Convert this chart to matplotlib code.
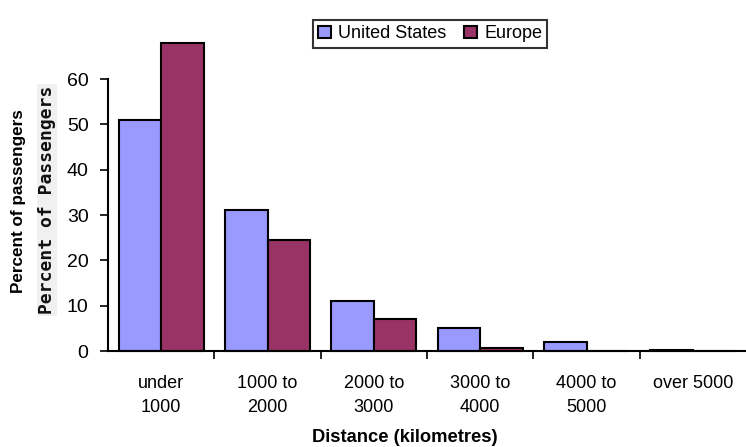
import matplotlib.pyplot as plt
import numpy as np

categories = ['under\n1000', '1000 to\n2000', '2000 to\n3000', '3000 to\n4000', '4000 to\n5000', 'over 5000']
us_values = [51, 31, 11, 5, 2, 0.3]
europe_values = [68, 24.5, 7, 0.7, 0, 0]

plt.rcParams['font.family'] = ['Liberation Sans', 'DejaVu Sans']

fig = plt.figure(figsize=(7.46, 4.47), dpi=100)
ax = fig.add_axes([108/746, 1 - 351/447, 638/746, 272/447])

x = np.arange(len(categories))
w = 0.4
ax.bar(x - w/2, us_values, w, color='#9999ff', edgecolor='black', linewidth=1.5,
       label='United States', clip_on=False)
ax.bar(x + w/2, europe_values, w, color='#993366', edgecolor='black', linewidth=1.5,
       label='Europe', clip_on=False)

ax.set_xlim(-0.5, 5.5)
ax.set_ylim(0, 60)
ax.set_yticks(range(0, 61, 10))
ax.set_xticks(x)
ax.set_xticklabels(categories, fontsize=13, linespacing=1.6)
ax.set_xticks(np.arange(0.5, 5, 1), minor=True)
ax.tick_params(axis='x', which='major', length=0, pad=17)
ax.tick_params(axis='x', which='minor', length=6, width=1.2, direction='out')
ax.tick_params(axis='y', length=6, width=1.2, direction='out', labelsize=14, pad=8)
for s in ['top', 'right']:
    ax.spines[s].set_visible(False)
ax.spines['left'].set_linewidth(1.5)
ax.spines['bottom'].set_linewidth(1.5)

fig.text(19/746, 1 - 201/447, 'Percent of passengers', rotation=90, fontsize=12.3,
         fontweight='bold', ha='center', va='center')
fig.text(47/746, 1 - 200/447, 'Percent of Passengers', rotation=90, fontsize=13,
         fontweight='bold', family='DejaVu Sans Mono', ha='center', va='center',
         color='#111111', bbox=dict(facecolor='#f0f0f0', edgecolor='none', pad=1))
fig.text(405/746, 1 - 438/447, 'Distance (kilometres)', fontsize=13.2,
         fontweight='bold', ha='center', va='center')

leg = fig.legend(loc='upper center', bbox_to_anchor=(430/746, 1 - 11/447),
                 ncol=2, fontsize=13, frameon=True, fancybox=False,
                 handlelength=0.7, handleheight=0.7, handletextpad=0.4,
                 columnspacing=1.0, borderpad=0.3)
leg.get_frame().set_edgecolor('black')
leg.get_frame().set_linewidth(1.5)

fig.savefig('out.png', dpi=100)
